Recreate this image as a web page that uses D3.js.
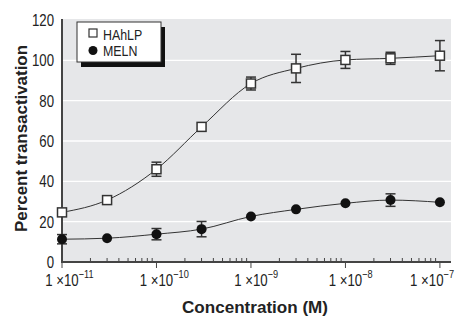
<!DOCTYPE html>
<html>
<head>
<meta charset="utf-8">
<script src="https://cdn.jsdelivr.net/npm/d3@7"></script>
<style>
  body { margin: 0; background: #fff; }
  text { font-family: "Liberation Sans", Arial, sans-serif; fill: #222; }
</style>
</head>
<body>
<div id="chart"></div>
<script>
'use strict';

// concentrations (M)
var concentrations = [1e-11, 3e-11, 1e-10, 3e-10, 1e-9, 3e-9, 1e-8, 3e-8, 1e-7];

// HAhLP: mean and error bar half-range
var hahlpValues = [24.6, 30.7, 46, 67, 88.5, 96, 100.2, 101, 102.3];
var hahlpErr    = [0, 0, 3.5, 0, 3.2, 7, 4.2, 3, 7.5];

// MELN
var melnValues = [11.3, 11.8, 13.8, 16.3, 22.6, 26.1, 29.1, 30.7, 29.6];
var melnErr    = [2.3, 0, 2.8, 3.8, 0, 0, 0, 3.1, 0];

var yTicks = [0, 20, 40, 60, 80, 100, 120];
var xMajor = [1e-11, 1e-10, 1e-9, 1e-8, 1e-7];
var xMajorExp = ['\u221211', '\u221210', '\u22129', '\u22128', '\u22127'];

var W = 455, H = 318;
var m = { left: 62, right: 4, top: 19, bottom: 56 };
var SX = 0.8; // horizontal squeeze to mimic a condensed face

var svg = d3.select('#chart').append('svg')
    .attr('width', W).attr('height', H);

var x = d3.scaleLog().domain([1e-11, 1.31e-7]).range([m.left, W - m.right]);
var y = d3.scaleLinear().domain([0, 120]).range([H - m.bottom, m.top + 1]);

// condensed text placed at (px, py)
function ctext(parent, px, py, size, anchor) {
    return parent.append('g')
        .attr('transform', 'translate(' + px + ',' + py + ') scale(' + SX + ',1)')
        .append('text')
        .attr('text-anchor', anchor || 'start')
        .attr('font-size', size);
}

// background
svg.append('rect')
    .attr('x', m.left).attr('y', m.top)
    .attr('width', W - m.right - m.left).attr('height', H - m.bottom - m.top)
    .attr('fill', '#e6e7e9');

// gridlines
svg.append('g').selectAll('line')
    .data(yTicks.filter(function (d) { return d > 0 && d < 120; }))
    .enter().append('line')
    .attr('x1', m.left).attr('x2', W - m.right)
    .attr('y1', function (d) { return y(d); }).attr('y2', function (d) { return y(d); })
    .attr('stroke', '#fff').attr('stroke-width', 1.3);

// minor ticks (inside)
var minor = [];
for (var e = -11; e < -7; e++) {
    for (var k = 2; k <= 9; k++) minor.push(k * Math.pow(10, e));
}
svg.append('g').selectAll('line')
    .data(minor).enter().append('line')
    .attr('x1', function (d) { return x(d); }).attr('x2', function (d) { return x(d); })
    .attr('y1', y(0)).attr('y2', y(0) - 4)
    .attr('stroke', '#444').attr('stroke-width', 1);

// major ticks (outside)
svg.append('g').selectAll('line')
    .data(xMajor).enter().append('line')
    .attr('x1', function (d) { return x(d); }).attr('x2', function (d) { return x(d); })
    .attr('y1', y(0)).attr('y2', y(0) + 6)
    .attr('stroke', '#444').attr('stroke-width', 1);

// axis lines
svg.append('line')
    .attr('x1', m.left - 1).attr('x2', W - m.right)
    .attr('y1', y(0)).attr('y2', y(0))
    .attr('stroke', '#444').attr('stroke-width', 2);
svg.append('line')
    .attr('x1', m.left).attr('x2', m.left)
    .attr('y1', m.top).attr('y2', y(0) + 1)
    .attr('stroke', '#444').attr('stroke-width', 2);

// y tick labels
yTicks.forEach(function (d) {
    ctext(svg, m.left - 8, y(d) + 6, 16.5, 'end').text(d);
});

// x tick labels: base "1 ×10" centred on the tick, exponent hanging right
xMajor.forEach(function (d, i) {
    var g = svg.append('g');
    var t = ctext(g, 0, 286, 16.5, 'start');
    var base = t.append('tspan').text('1 \u00d710');
    t.append('tspan').attr('dy', -8).attr('font-size', 11.5).text(xMajorExp[i]);
    var bw = base.node().getComputedTextLength() * SX;
    var tw = t.node().getComputedTextLength() * SX;
    var left = x(d) - bw / 2;
    if (left + tw > W - 1) left = W - 1 - tw;
    g.select('g').attr('transform', 'translate(' + left + ',286) scale(' + SX + ',1)');
});

// axis titles
svg.append('text')
    .attr('x', 255).attr('y', 313)
    .attr('text-anchor', 'middle')
    .attr('font-size', 17).attr('font-weight', 'bold')
    .attr('textLength', 146).attr('lengthAdjust', 'spacingAndGlyphs')
    .text('Concentration (M)');
svg.append('text')
    .attr('transform', 'translate(27,138.5) rotate(-90)')
    .attr('text-anchor', 'middle')
    .attr('font-size', 17).attr('font-weight', 'bold')
    .attr('textLength', 187).attr('lengthAdjust', 'spacingAndGlyphs')
    .text('Percent transactivation');

function series(vals) {
    return concentrations.map(function (c, i) { return [c, vals[i]]; });
}

var line = d3.line()
    .x(function (d) { return x(d[0]); })
    .y(function (d) { return y(d[1]); })
    .curve(d3.curveMonotoneX);

function drawErr(vals, errs) {
    var g = svg.append('g').attr('stroke', '#333').attr('stroke-width', 1.5);
    concentrations.forEach(function (c, i) {
        if (!errs[i]) return;
        var cx = x(c);
        g.append('line').attr('x1', cx).attr('x2', cx)
            .attr('y1', y(vals[i] + errs[i])).attr('y2', y(vals[i] - errs[i]));
        [vals[i] + errs[i], vals[i] - errs[i]].forEach(function (v) {
            g.append('line').attr('x1', cx - 5).attr('x2', cx + 5)
                .attr('y1', y(v)).attr('y2', y(v));
        });
    });
}

// lines
svg.append('path').datum(series(hahlpValues))
    .attr('d', line).attr('fill', 'none').attr('stroke', '#333').attr('stroke-width', 1);
svg.append('path').datum(series(melnValues))
    .attr('d', line).attr('fill', 'none').attr('stroke', '#333').attr('stroke-width', 1);

drawErr(hahlpValues, hahlpErr);
drawErr(melnValues, melnErr);

// markers
svg.append('g').selectAll('rect')
    .data(series(hahlpValues)).enter().append('rect')
    .attr('x', function (d) { return x(d[0]) - 4.5; })
    .attr('y', function (d) { return y(d[1]) - 4.5; })
    .attr('width', 9).attr('height', 9)
    .attr('fill', '#fff').attr('stroke', '#333').attr('stroke-width', 1.5);
svg.append('g').selectAll('circle')
    .data(series(melnValues)).enter().append('circle')
    .attr('cx', function (d) { return x(d[0]); })
    .attr('cy', function (d) { return y(d[1]); })
    .attr('r', 5).attr('fill', '#111');

// legend
var lg = svg.append('g').attr('transform', 'translate(77,22)');
lg.append('rect').attr('x', 4).attr('y', 5).attr('width', 84).attr('height', 40).attr('fill', '#111');
lg.append('rect').attr('x', 0).attr('y', 0).attr('width', 84).attr('height', 40)
    .attr('fill', '#fff').attr('stroke', '#333').attr('stroke-width', 1);
lg.append('rect').attr('x', 12).attr('y', 7).attr('width', 8).attr('height', 8)
    .attr('fill', '#fff').attr('stroke', '#333').attr('stroke-width', 1.2);
lg.append('circle').attr('cx', 16).attr('cy', 28.5).attr('r', 4.5).attr('fill', '#111');
ctext(lg, 26, 17.5, 15.5).text('HAhLP');
ctext(lg, 26, 34, 15.5).text('MELN');
</script>
</body>
</html>
